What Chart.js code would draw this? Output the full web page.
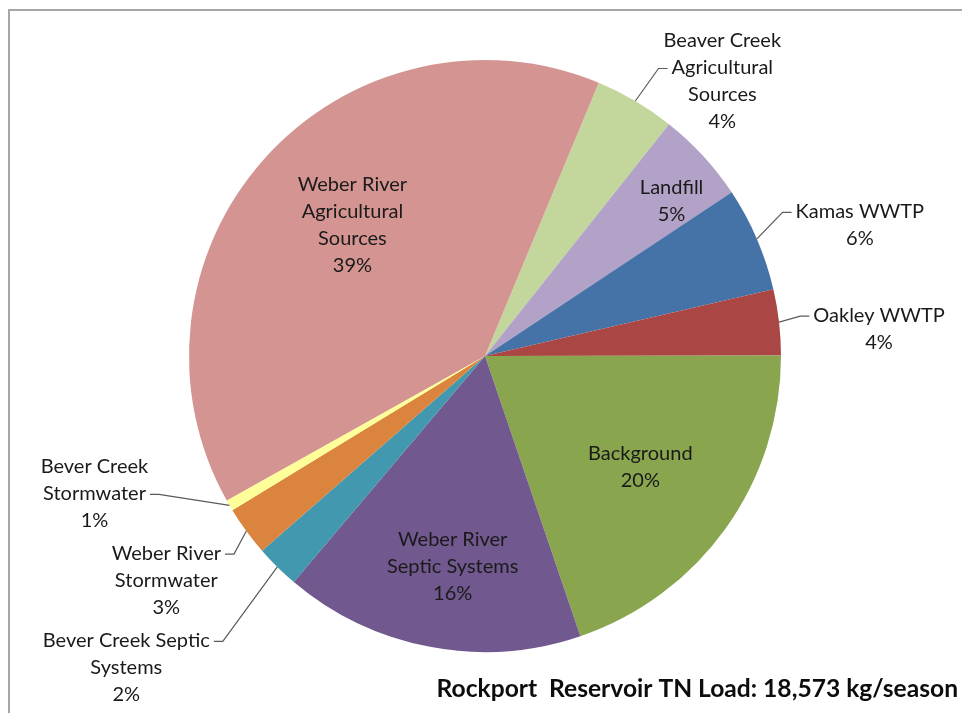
<!DOCTYPE html>
<html>
<head>
<meta charset="utf-8">
<script src="https://cdn.jsdelivr.net/npm/chart.js"></script>
<style>
    html, body { margin: 0; padding: 0; background: #fff; }
    #wrap { position: relative; width: 962px; height: 713px; overflow: hidden; }
    #frame { position: absolute; left: 8px; top: 9px; right: -10px; bottom: -10px;
             border-left: 2px solid #a6a6a6; border-top: 2px solid #a6a6a6; }
    #loadChart { position: absolute; left: 0; top: 0; }
</style>
</head>
<body>
<div id="wrap">
    <div id="frame"></div>
    <canvas id="loadChart" width="962" height="713"></canvas>
</div>
<script>
// --- Data (clockwise, starting just right of 12 o'clock) ---
const sources = [
    ['Beaver Creek', 'Agricultural', 'Sources'],
    ['Landfill'],
    ['Kamas WWTP'],
    ['Oakley WWTP'],
    ['Background'],
    ['Weber River', 'Septic Systems'],
    ['Bever Creek Septic', 'Systems'],
    ['Weber River', 'Stormwater'],
    ['Bever Creek', 'Stormwater'],
    ['Weber River', 'Agricultural', 'Sources']
];
const loadShare = [4.4, 5.0, 5.7, 3.6, 19.8, 16.4, 2.4, 2.7, 0.6, 39.4];
const chartTitle = 'Rockport  Reservoir TN Load: 18,573 kg/season';

const sliceColors = ['#c3d69b', '#b3a2c7', '#4572a7', '#aa4643', '#89a54e',
                     '#71588f', '#4198af', '#db843d', '#ffff99', '#d49592'];

// where each label sits: inside (r = fraction of radius) or outside with a leader line
const labelLayout = [
    { out: true, dx: 87, dy: -20, attach: 1 },
    { r: 0.82, da: 2.8 },
    { out: true, dx: 103, dy: -14, attach: 0 },
    { out: true, dx: 100, dy: 6.5, attach: 0 },
    { r: 0.645, da: 0 },
    { r: 0.72, da: -2 },
    { out: true, dx: -151, dy: 100.5, attach: 0 },
    { out: true, dx: -80, dy: 49, attach: 0 },
    { out: true, dx: -135, dy: -12, attach: 1 },
    { r: 0.63, da: 3 }
];

const labelFont = '20px Lato, "Open Sans", sans-serif';
const lineGap = 27;

const sliceLabels = {
    id: 'sliceLabels',
    afterDraw(chart) {
        const ctx = chart.ctx;
        const arcs = chart.getDatasetMeta(0).data;
        ctx.save();
        ctx.font = labelFont;
        ctx.textAlign = 'center';
        ctx.textBaseline = 'middle';
        arcs.forEach((arc, i) => {
            const lines = sources[i].concat(Math.round(loadShare[i]) + '%');
            const lay = labelLayout[i];
            const mid = (arc.startAngle + arc.endAngle) / 2;
            let cx, cy;
            if (lay.out) {
                const ax = arc.x + Math.cos(mid) * arc.outerRadius;
                const ay = arc.y + Math.sin(mid) * arc.outerRadius;
                cx = ax + lay.dx;
                cy = ay + lay.dy;
                const top = cy - (lines.length - 1) * lineGap / 2;
                const ly = top + lay.attach * lineGap + 1;
                const w = ctx.measureText(lines[lay.attach]).width;
                const dir = lay.dx > 0 ? 1 : -1;
                const edge = cx - dir * w / 2;
                const endX = edge - dir * 4;
                const elbowX = endX - dir * 9;
                ctx.strokeStyle = '#5a5a5a';
                ctx.lineWidth = 1.2;
                ctx.beginPath();
                ctx.moveTo(ax, ay);
                ctx.lineTo(elbowX, ly);
                ctx.lineTo(endX, ly);
                ctx.stroke();
            } else {
                const a = mid + lay.da * Math.PI / 180;
                cx = arc.x + Math.cos(a) * arc.outerRadius * lay.r;
                cy = arc.y + Math.sin(a) * arc.outerRadius * lay.r;
            }
            ctx.fillStyle = '#1a1a1a';
            const top = cy - (lines.length - 1) * lineGap / 2;
            lines.forEach((t, k) => ctx.fillText(t, cx, top + k * lineGap));
        });
        // title, bottom right
        ctx.font = 'bold 24.6px Lato, "Open Sans", sans-serif';
        ctx.textAlign = 'right';
        ctx.fillStyle = '#0d0d0d';
        ctx.fillText(chartTitle, 958, 689);
        ctx.restore();
    }
};

new Chart(document.getElementById('loadChart'), {
    type: 'pie',
    data: {
        labels: sources,
        datasets: [{
            data: loadShare,
            backgroundColor: sliceColors,
            borderWidth: 0
        }]
    },
    options: {
        responsive: false,
        animation: false,
        rotation: 22.6,
        layout: { padding: { top: 60, bottom: 61, left: 100, right: 92 } },
        plugins: {
            legend: { display: false },
            tooltip: { enabled: false }
        }
    },
    plugins: [sliceLabels]
});
</script>
</body>
</html>
